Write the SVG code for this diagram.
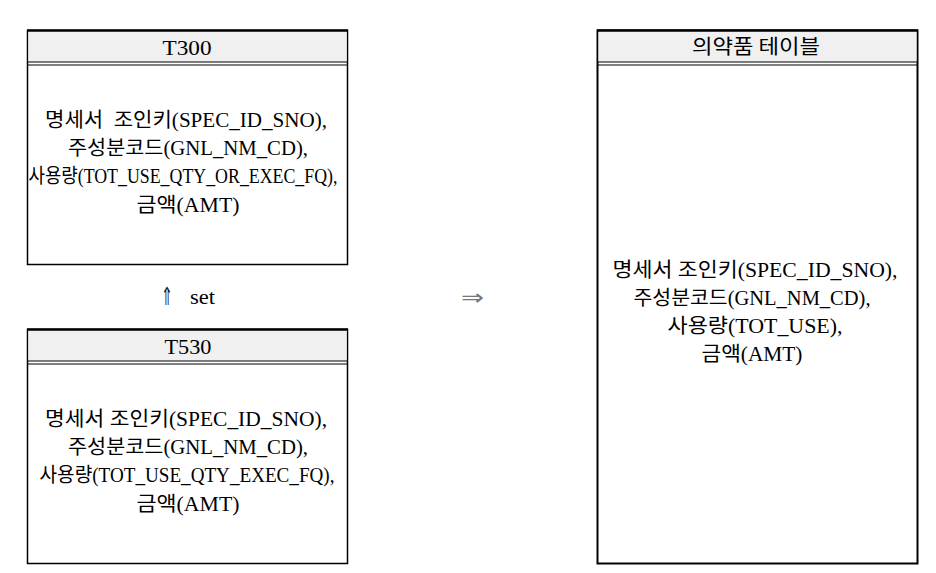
<svg xmlns="http://www.w3.org/2000/svg" width="936" height="573" viewBox="0 0 936 573">
<style>
.box{fill:#ffffff;stroke:#000;stroke-width:1.5}
.hdr{fill:#f0f0f0;stroke:none}
.edge{stroke:#000;stroke-width:2.5;fill:none}
.sep{stroke:#000;stroke-width:1.2}
.t{font-family:"Liberation Serif","DejaVu Serif","Noto Sans CJK KR",serif;font-size:20px;fill:#000;text-anchor:middle;white-space:pre}
.h{font-family:"Liberation Serif","DejaVu Serif",serif;font-size:21px;fill:#000;text-anchor:middle}
.hs{font-family:"Noto Sans CJK KR","Liberation Sans",sans-serif;font-size:20px;fill:#000;text-anchor:middle}
</style>
<rect width="936" height="573" fill="#ffffff"/>
<g id="T300">
<rect class="box" x="27.5" y="30.5" width="320" height="234"/>
<rect class="hdr" x="28.5" y="31" width="318" height="31"/>
<line class="edge" x1="27" y1="30.5" x2="348" y2="30.5"/>
<line class="sep" x1="27" y1="62" x2="348" y2="62"/>
<line class="sep" x1="27" y1="65" x2="348" y2="65"/>
<text class="h" x="187" y="55" textLength="49" lengthAdjust="spacingAndGlyphs">T300</text>
<text class="t" x="186" y="127" textLength="282" lengthAdjust="spacingAndGlyphs">명세서  조인키(SPEC_ID_SNO),</text>
<text class="t" x="188" y="155" textLength="240" lengthAdjust="spacingAndGlyphs">주성분코드(GNL_NM_CD),</text>
<text class="t" x="183" y="183" textLength="309" lengthAdjust="spacingAndGlyphs">사용량(TOT_USE_QTY_OR_EXEC_FQ),</text>
<text class="t" x="188" y="212" textLength="103" lengthAdjust="spacingAndGlyphs">금액(AMT)</text>
</g>
<g id="T530">
<rect class="box" x="27.5" y="329.5" width="320" height="234"/>
<rect class="hdr" x="28.5" y="330" width="318" height="31"/>
<line class="edge" x1="27" y1="329.5" x2="348" y2="329.5"/>
<line class="sep" x1="27" y1="361" x2="348" y2="361"/>
<line class="sep" x1="27" y1="364" x2="348" y2="364"/>
<text class="h" x="188" y="354" textLength="47" lengthAdjust="spacingAndGlyphs">T530</text>
<text class="t" x="186" y="426" textLength="282" lengthAdjust="spacingAndGlyphs">명세서 조인키(SPEC_ID_SNO),</text>
<text class="t" x="188" y="454" textLength="240" lengthAdjust="spacingAndGlyphs">주성분코드(GNL_NM_CD),</text>
<text class="t" x="187" y="482" textLength="295" lengthAdjust="spacingAndGlyphs">사용량(TOT_USE_QTY_EXEC_FQ),</text>
<text class="t" x="188" y="511" textLength="103" lengthAdjust="spacingAndGlyphs">금액(AMT)</text>
</g>
<g id="drug_table">
<rect class="box" x="597.5" y="30.5" width="320" height="533" style="stroke-width:2"/>
<rect class="hdr" x="598.5" y="31" width="318" height="31"/>
<line class="edge" x1="597" y1="30.5" x2="918" y2="30.5"/>
<line class="sep" x1="597" y1="62" x2="918" y2="62"/>
<line class="sep" x1="597" y1="65" x2="918" y2="65"/>
<text class="hs" x="756" y="54" textLength="128" lengthAdjust="spacingAndGlyphs">의약품 테이블</text>
<text class="t" x="755" y="277" textLength="285" lengthAdjust="spacingAndGlyphs">명세서 조인키(SPEC_ID_SNO),</text>
<text class="t" x="752" y="305" textLength="237" lengthAdjust="spacingAndGlyphs">주성분코드(GNL_NM_CD),</text>
<text class="t" x="755" y="333" textLength="175" lengthAdjust="spacingAndGlyphs">사용량(TOT_USE),</text>
<text class="t" x="752" y="361" textLength="101" lengthAdjust="spacingAndGlyphs">금액(AMT)</text>
</g>
<g id="connectors">
<text x="161" y="305" textLength="12" lengthAdjust="spacingAndGlyphs" style="font-family:'DejaVu Sans',sans-serif;font-size:25px;fill:#222">⇑</text>
<text x="190" y="304" textLength="25" lengthAdjust="spacingAndGlyphs" style="font-family:'Liberation Serif','DejaVu Serif',serif;font-size:20px;fill:#000">set</text>
<text x="461" y="305" textLength="23" lengthAdjust="spacingAndGlyphs" style="font-family:'DejaVu Sans',sans-serif;font-size:22px;fill:#777">⇒</text>
</g>
</svg>
